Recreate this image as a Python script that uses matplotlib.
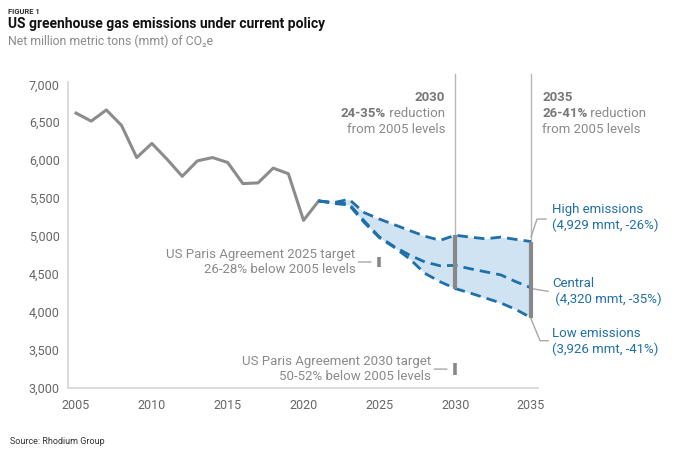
import matplotlib
matplotlib.use("Agg")
import matplotlib.pyplot as plt
import numpy as np

plt.rcParams['font.family'] = ['Roboto', 'DejaVu Sans']

# historic net emissions (mmt CO2e)
hist_years = list(range(2005, 2022))
hist_vals = [6620, 6515, 6662, 6458, 6035, 6221, 6013, 5788, 5991, 6035,
             5970, 5692, 5701, 5896, 5822, 5208, 5464]

# projections under current policy
proj_years = list(range(2021, 2036))
high = [5464, 5442, 5485, 5310, 5225, 5150, 5073, 5000, 4944, 5012,
        4987, 4965, 4987, 4957, 4929]
central = [5464, 5440, 5425, 5200, 4990, 4860, 4750, 4660, 4610, 4615,
           4570, 4530, 4490, 4400, 4320]
low = [5464, 5430, 5410, 5180, 4980, 4850, 4700, 4510, 4400, 4310,
       4250, 4185, 4120, 4035, 3926]

# Paris targets (year, low end, high end)
targets = [(2025, 4590, 4730), (2030, 3169, 3329)]
target_labels = ["US Paris Agreement 2025 target\n26-28% below 2005 levels",
                 "US Paris Agreement 2030 target\n50-52% below 2005 levels"]

marker_years = [2030, 2035]
marker_bold = ["24-35%", "26-41%"]

end_labels = ["High emissions\n(4,929 mmt, -26%)",
              "Central\n (4,320 mmt, -35%)",
              "Low emissions\n(3,926 mmt, -41%)"]
end_label_y = [5240, 4266, 3610]

BLUE = "#1f6fa8"
GRAY = "#8c8c8c"
TXT = "#8a8a8a"
LEAD = "#a8a8a8"

fig = plt.figure(figsize=(6.8, 4.67), dpi=100)
ax = fig.add_axes([68 / 680, 79 / 467, 470 / 680, 306 / 467])

ax.fill_between(proj_years, low, high, color="#cfe3f3", lw=0, zorder=1)
ax.plot(hist_years, hist_vals, color=GRAY, lw=2.2, zorder=3)
for s in (high, central, low):
    ax.plot(proj_years, s, color=BLUE, lw=2.0, ls=(0, (3.8, 2.2)), zorder=4)

ax.set_xlim(2004.47, 2035.46)
ax.set_ylim(3000, 7030)
ax.set_xticks(range(2005, 2036, 5))
ax.set_yticks(range(3000, 7001, 500))
ax.yaxis.set_major_formatter(matplotlib.ticker.FuncFormatter(lambda v, p: f"{int(v):,}"))
ax.tick_params(length=0, labelsize=9, labelcolor="#666666", pad=6)
ax.tick_params(axis="x", pad=8)
for sp in ["top", "right"]:
    ax.spines[sp].set_visible(False)
for sp in ["left", "bottom"]:
    ax.spines[sp].set_color("#d6d6d6")
    ax.spines[sp].set_linewidth(1.2)

# vertical markers at 2030 and 2035
for yr, bold in zip(marker_years, marker_bold):
    i = proj_years.index(yr)
    ax.plot([yr, yr], [low[i], 7140], color="#b8b8b8", lw=1.0, zorder=2, clip_on=False)
    ax.plot([yr, yr], [low[i], high[i]], color="#888888", lw=3.0, zorder=5,
            solid_capstyle="butt")

fig.canvas.draw()
r = fig.canvas.get_renderer()

def mixed_line(x, y, bold, rest, ha, dx):
    # bold lead part + regular remainder on one line
    t2 = ax.annotate(rest, (x, y), xytext=(dx, 0), textcoords="offset pixels",
                     ha="left", va="center", fontsize=9.5, color=TXT)
    t1 = ax.annotate(bold, (x, y), xytext=(dx, 0), textcoords="offset pixels",
                     ha="left", va="center", fontsize=9.5, color="#777777",
                     fontweight="bold")
    w1 = t1.get_window_extent(r).width
    w2 = t2.get_window_extent(r).width
    if ha == "right":
        t1.set_position((dx - w1 - w2, 0))
        t2.set_position((dx - w2, 0))
    else:
        t1.set_position((dx, 0))
        t2.set_position((dx + w1, 0))

for yr, bold in zip(marker_years, marker_bold):
    ha = "right" if yr == 2030 else "left"
    dx = -10 if yr == 2030 else 11
    ax.annotate(str(yr), (yr, 6830), xytext=(dx, 0), textcoords="offset pixels",
                ha=ha, va="center", fontsize=9.5, color="#777777", fontweight="bold")
    mixed_line(yr, 6620, bold, " reduction", ha, dx)
    ax.annotate("from 2005 levels", (yr, 6410), xytext=(dx, 0), textcoords="offset pixels",
                ha=ha, va="center", fontsize=9.5, color=TXT)

# Paris targets
for (yr, lo, hi), lab in zip(targets, target_labels):
    ax.plot([yr, yr], [lo, hi], color="#888888", lw=2.6, solid_capstyle="butt", zorder=5)
    mid = (lo + hi) / 2
    ax.annotate("", (yr, mid), xytext=(-21, 0), textcoords="offset pixels",
                arrowprops=dict(arrowstyle="-", color=LEAD, lw=1,
                                shrinkA=0, shrinkB=6))
    ax.annotate(lab, (yr, mid), xytext=(-24, 0), textcoords="offset pixels",
                ha="right", va="center", fontsize=9.5, color=TXT, linespacing=1.2)

# end labels with leader lines
for lab, ly in zip(end_labels, end_label_y):
    ax.annotate(lab, (2035, ly), xytext=(21, 0), textcoords="offset pixels",
                ha="left", va="center", fontsize=9.5, color=BLUE, linespacing=1.25)
dx1 = 6 / 15.17
dx2 = 15 / 15.17
ax.plot([2035, 2035 + dx1, 2035 + dx2], [high[-1] + 60, 5225, 5225],
        color=LEAD, lw=1, clip_on=False)
ax.plot([2035, 2035 + 17 / 15.17], [central[-1] - 10, 4273],
        color=LEAD, lw=1, clip_on=False)
ax.plot([2035, 2035 + 9 / 15.17, 2035 + dx2 + 2 / 15.17], [low[-1] - 15, 3623, 3623],
        color=LEAD, lw=1, clip_on=False)

fig.text(8 / 680, 1 - 11 / 467, "FIGURE 1", fontsize=5.5, fontweight="bold",
         color="#333333", va="center")
fig.text(8 / 680, 1 - 24 / 467, "US greenhouse gas emissions under current policy",
         fontsize=10, fontweight="bold", color="#111111", va="center")
fig.text(8 / 680, 1 - 41 / 467, "Net million metric tons (mmt) of CO\u2082e",
         fontsize=8.8, color="#8a8a8a", va="center")
fig.text(10 / 680, 1 - 442 / 467, "Source: Rhodium Group", fontsize=6.5,
         color="#333333", va="center")

fig.savefig("out.png", dpi=100)
